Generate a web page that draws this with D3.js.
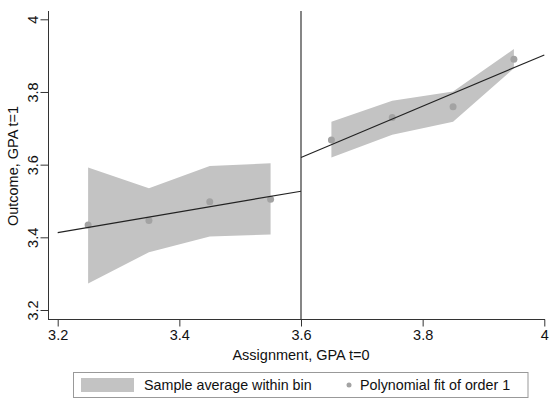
<!DOCTYPE html>
<html><head><meta charset="utf-8">
<script src="https://cdn.jsdelivr.net/npm/d3@7"></script>
<style>body{margin:0;background:#fff}svg{display:block}text{font-family:"Liberation Sans",Arial,Helvetica,sans-serif;fill:#111}</style>
</head><body><svg id="c" width="550" height="400"></svg>
<script>
// Data
const binsLeft = [3.25, 3.35, 3.45, 3.55];
const meanLeft = [3.434, 3.446, 3.498, 3.505];
const upperLeft = [3.592, 3.535, 3.596, 3.604];
const lowerLeft = [3.273, 3.359, 3.402, 3.408];
const fitLeft = [[3.2, 3.413], [3.6, 3.527]];

const binsRight = [3.65, 3.75, 3.85, 3.95];
const meanRight = [3.668, 3.730, 3.759, 3.890];
const upperRight = [3.718, 3.776, 3.801, 3.918];
const lowerRight = [3.620, 3.682, 3.718, 3.865];
const fitRight = [[3.6, 3.620], [4.0, 3.902]];

const xTicks = [3.2, 3.4, 3.6, 3.8, 4];
const yTicks = [3.2, 3.4, 3.6, 3.8, 4];
const cutoff = 3.6;
const legendLabels = ["Sample average within bin", "Polynomial fit of order 1"];

const svg = d3.select("#c");
const x = d3.scaleLinear().domain([3.2, 4]).range([57.7, 544.3]);
const y = d3.scaleLinear().domain([3.2, 4]).range([310, 19.3]);
const fmt = d => (d === 4 ? "4" : d3.format(".1f")(d));

const bandColor = "#c3c3c3", dotColor = "#a3a3a3";

// bands
const area = d3.area().x(d => x(d[0])).y0(d => y(d[1])).y1(d => y(d[2]));
[[binsLeft, lowerLeft, upperLeft], [binsRight, lowerRight, upperRight]].forEach(([b, lo, up]) => {
  svg.append("path").attr("d", area(b.map((v, i) => [v, lo[i], up[i]])))
    .attr("fill", bandColor).attr("stroke", "none");
});

// points
[[binsLeft, meanLeft], [binsRight, meanRight]].forEach(([b, m]) => {
  svg.selectAll(null).data(b.map((v, i) => [v, m[i]])).enter().append("circle")
    .attr("cx", d => x(d[0])).attr("cy", d => y(d[1])).attr("r", 3.5).attr("fill", dotColor);
});

// fit lines
const line = d3.line().x(d => x(d[0])).y(d => y(d[1]));
[fitLeft, fitRight].forEach(f => {
  svg.append("path").attr("d", line(f)).attr("fill", "none").attr("stroke", "#222").attr("stroke-width", 1.1);
});

// cutoff line
svg.append("line").attr("x1", x(cutoff)).attr("x2", x(cutoff)).attr("y1", 11).attr("y2", 319.5)
  .attr("stroke", "#222").attr("stroke-width", 1.1);

// axes
const xAxis = svg.append("g").attr("transform", "translate(0,319.5)")
  .call(d3.axisBottom(x).tickValues(xTicks).tickFormat(fmt).tickSize(7).tickPadding(3));
xAxis.select(".domain").remove();
xAxis.append("line").attr("x1", 48).attr("x2", 545).attr("stroke", "#333");
xAxis.selectAll("text").attr("font-size", 14.5).attr("fill", "#111");
xAxis.selectAll(".tick line").attr("stroke", "#333");

const yAxis = svg.append("g").attr("transform", "translate(48.5,0)")
  .call(d3.axisLeft(y).tickValues(yTicks).tickFormat(fmt).tickSize(8));
yAxis.select(".domain").remove();
yAxis.append("line").attr("y1", 11).attr("y2", 319.5).attr("stroke", "#333");
yAxis.selectAll(".tick line").attr("stroke", "#333");
yAxis.selectAll("text").attr("font-size", 14.5).attr("fill", "#111")
  .attr("x", 0).attr("dy", null)
  .attr("text-anchor", "middle")
  .attr("transform", "translate(-16,0) rotate(-90)")
  .attr("dominant-baseline", "central");

// titles
svg.append("text").attr("x", 301).attr("y", 359.5).attr("text-anchor", "middle").attr("font-size", 14.5)
  .text("Assignment, GPA t=0");
svg.append("text").attr("transform", "translate(13,166) rotate(-90)").attr("text-anchor", "middle")
  .attr("dominant-baseline", "central").attr("font-size", 14.5).text("Outcome, GPA t=1");

// legend
const lg = svg.append("g");
lg.append("rect").attr("x", 73.5).attr("y", 372.5).attr("width", 454.5).attr("height", 25)
  .attr("fill", "#fff").attr("stroke", "#999");
lg.append("rect").attr("x", 81).attr("y", 378).attr("width", 53).attr("height", 14).attr("fill", bandColor);
lg.append("text").attr("x", 144).attr("y", 390).attr("font-size", 14.3).text(legendLabels[0]);
lg.append("circle").attr("cx", 349).attr("cy", 385).attr("r", 2.5).attr("fill", dotColor);
lg.append("text").attr("x", 360).attr("y", 390).attr("font-size", 14.3).text(legendLabels[1]);
</script></body></html>
